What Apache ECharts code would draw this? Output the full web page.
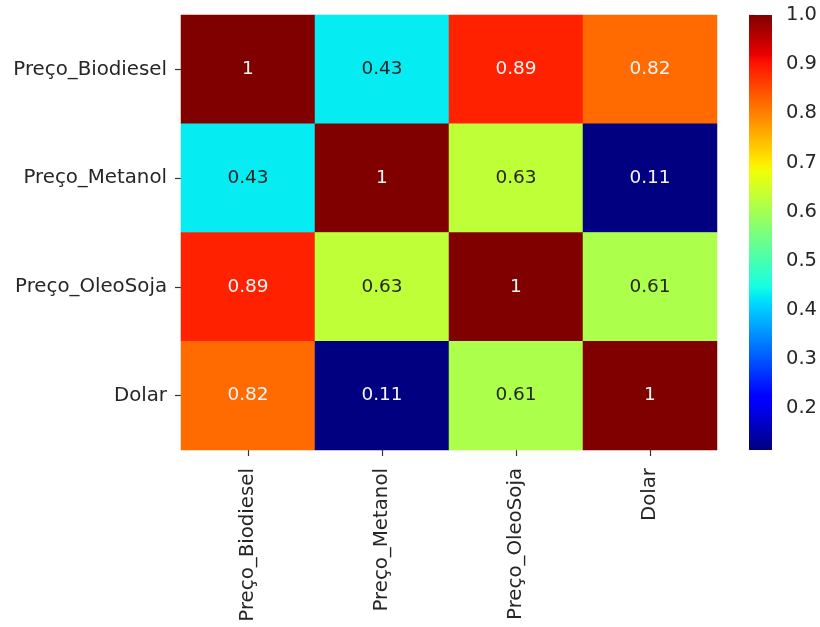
<!DOCTYPE html>
<html>
<head>
<meta charset="utf-8">
<title>Correlação</title>
<script src="https://cdn.jsdelivr.net/npm/echarts@6/dist/echarts.min.js"></script>
<style>
  html, body { margin: 0; padding: 0; background: #fff; }
  #chart { width: 820px; height: 627px; }
</style>
</head>
<body>
<div id="chart"></div>
<script>
// Variables of the correlation matrix (rows top to bottom, columns left to right)
const variables = ['Preço_Biodiesel', 'Preço_Metanol', 'Preço_OleoSoja', 'Dolar'];

// Pearson correlations, one array per row
const rowBiodiesel = [1, 0.43, 0.89, 0.82];
const rowMetanol   = [0.43, 1, 0.63, 0.11];
const rowOleoSoja  = [0.89, 0.63, 1, 0.61];
const rowDolar     = [0.82, 0.11, 0.61, 1];
const matrixRows = [rowBiodiesel, rowMetanol, rowOleoSoja, rowDolar];

// Colour scale range and colourbar ticks
const scaleMin = 0.115;
const scaleMax = 1.0;
const colorbarTicks = [0.2, 0.3, 0.4, 0.5, 0.6, 0.7, 0.8, 0.9, 1.0];

// "jet" colormap as piecewise-linear channels
const jetSegments = {
  r: [[0, 0], [0.35, 0], [0.66, 1], [0.89, 1], [1, 0.5]],
  g: [[0, 0], [0.125, 0], [0.375, 1], [0.64, 1], [0.91, 0], [1, 0]],
  b: [[0, 0.5], [0.11, 1], [0.34, 1], [0.65, 0], [1, 0]]
};
function channel(seg, t) {
  for (let i = 1; i < seg.length; i++) {
    if (t <= seg[i][0]) {
      const [x0, y0] = seg[i - 1], [x1, y1] = seg[i];
      return y0 + (y1 - y0) * (t - x0) / (x1 - x0);
    }
  }
  return seg[seg.length - 1][1];
}
function jetRgb(t) {
  t = Math.max(0, Math.min(1, t));
  return [channel(jetSegments.r, t), channel(jetSegments.g, t), channel(jetSegments.b, t)];
}
function toCss(rgb) {
  return 'rgb(' + rgb.map(c => Math.round(c * 255)).join(',') + ')';
}
const jetSteps = 256;
const jetColors = [];
for (let i = 0; i < jetSteps; i++) jetColors.push(toCss(jetRgb(i / (jetSteps - 1))));
const jetStops = jetColors.map((c, i) => ({ offset: i / (jetSteps - 1), color: c }));

// annotation colour follows the cell's luminance
function luminance(rgb) {
  const lin = rgb.map(c => c <= 0.03928 ? c / 12.92 : Math.pow((c + 0.055) / 1.055, 2.4));
  return 0.2126 * lin[0] + 0.7152 * lin[1] + 0.0722 * lin[2];
}
function textColor(v) {
  const rgb = jetRgb((v - scaleMin) / (scaleMax - scaleMin));
  return luminance(rgb) > 0.408 ? '#262626' : '#f4f4f4';
}

const cells = [];
matrixRows.forEach((row, r) => {
  row.forEach((v, c) => {
    cells.push({
      value: [c, r, v],
      label: { color: textColor(v) }
    });
  });
});

const FONT = 'DejaVu Sans';
const chart = echarts.init(document.getElementById('chart'));
chart.setOption({
  animation: false,
  backgroundColor: '#ffffff',
  textStyle: { fontFamily: FONT },
  grid: [
    { left: 181, top: 15, width: 536, height: 435 },
    { left: 749, top: 15, width: 23, height: 435 }
  ],
  xAxis: [
    {
      gridIndex: 0,
      type: 'category',
      data: variables,
      position: 'bottom',
      axisLine: { show: false },
      axisTick: { show: true, alignWithLabel: true, length: 6, lineStyle: { color: '#333', width: 1.2 } },
      axisLabel: { rotate: 90, margin: 18, fontSize: 19.8, fontFamily: FONT, color: '#262626' },
      splitLine: { show: false }
    },
    {
      gridIndex: 1,
      type: 'value',
      min: 0,
      max: 1,
      show: false
    }
  ],
  yAxis: [
    {
      gridIndex: 0,
      type: 'category',
      data: variables,
      inverse: true,
      axisLine: { show: false },
      axisTick: { show: true, alignWithLabel: true, length: 6, lineStyle: { color: '#333', width: 1.2 } },
      axisLabel: { margin: 14, fontSize: 19.8, fontFamily: FONT, color: '#262626' },
      splitLine: { show: false }
    },
    {
      gridIndex: 1,
      type: 'value',
      min: scaleMin,
      max: scaleMax,
      position: 'right',
      axisLine: { show: false },
      splitLine: { show: false },
      axisTick: { show: true, length: 6, customValues: colorbarTicks, lineStyle: { color: '#333', width: 1.2 } },
      axisLabel: {
        show: true,
        margin: 14,
        fontSize: 19.5,
        fontFamily: FONT,
        color: '#262626',
        customValues: colorbarTicks,
        formatter: v => v.toFixed(1)
      }
    }
  ],
  visualMap: {
    show: false,
    type: 'continuous',
    seriesIndex: 0,
    dimension: 2,
    min: scaleMin,
    max: scaleMax,
    inRange: { color: jetColors }
  },
  series: [
    {
      type: 'heatmap',
      xAxisIndex: 0,
      yAxisIndex: 0,
      data: cells,
      label: {
        show: true,
        fontSize: 18.5,
        fontFamily: FONT,
        formatter: p => String(p.value[2])
      },
      itemStyle: { borderWidth: 0 },
      emphasis: { disabled: true }
    },
    {
      type: 'custom',
      xAxisIndex: 1,
      yAxisIndex: 1,
      silent: true,
      clip: false,
      data: [[scaleMin, scaleMax]],
      renderItem: function (params, api) {
        const topLeft = api.coord([0, api.value(1)]);
        const bottomRight = api.coord([1, api.value(0)]);
        return {
          type: 'rect',
          shape: {
            x: topLeft[0],
            y: topLeft[1],
            width: bottomRight[0] - topLeft[0],
            height: bottomRight[1] - topLeft[1]
          },
          style: { fill: new echarts.graphic.LinearGradient(0, 1, 0, 0, jetStops) }
        };
      }
    }
  ]
});
</script>
</body>
</html>
